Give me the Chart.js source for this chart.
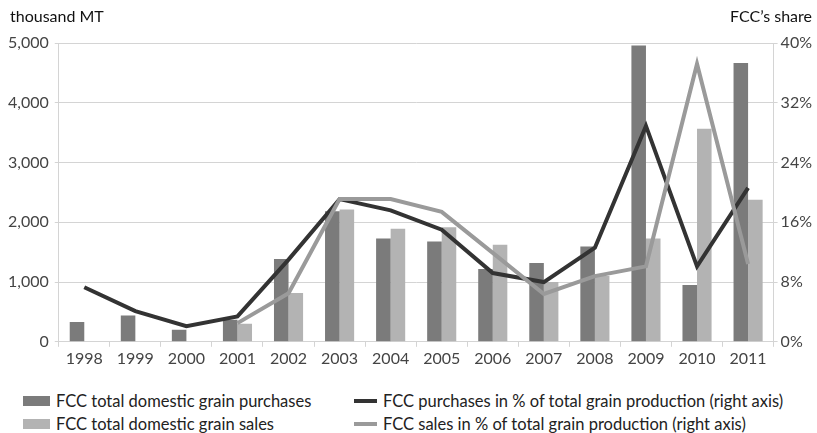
<!DOCTYPE html>
<html>
<head>
<meta charset="utf-8">
<script src="https://cdn.jsdelivr.net/npm/chart.js@4"></script>
<style>
  body { margin: 0; background: #fff; font-family: Lato, "Noto Sans", sans-serif; }
  #wrap { position: relative; width: 817px; height: 433px; }
  #box { position: absolute; left: 0; top: 0; width: 817px; height: 370px; }
  #legend { position: absolute; left: 23px; top: 392px; display: grid;
    grid-template-columns: 332px 450px; row-gap: 5px; font-size: 16.5px; color: #222; }
  .item { display: flex; align-items: center; height: 18px; white-space: nowrap; }
  .sw { display: inline-block; margin-right: 6px; }
</style>
</head>
<body>
<div id="wrap">
  <div id="box"><canvas id="chart"></canvas></div>
  <div id="legend"></div>
</div>
<script>
const years = ['1998','1999','2000','2001','2002','2003','2004','2005','2006','2007','2008','2009','2010','2011'];
// thousand MT
const purchases = [330, 440, 200, 370, 1385, 2185, 1730, 1680, 1220, 1320, 1595, 4960, 950, 4665];
const sales = [null, null, null, 300, 815, 2215, 1890, 1915, 1625, 1000, 1100, 1730, 3565, 2375];
// FCC share, % of total grain production
const purchShare = [7.3, 4.1, 2.1, 3.4, 11.0, 19.1, 17.6, 15.0, 9.2, 8.0, 12.6, 28.9, 10.1, 20.6];
const salesShare = [null, null, null, 2.5, 6.5, 19.1, 19.1, 17.4, 11.9, 6.4, 8.8, 10.1, 37.2, 10.4];

const tickFont = { family: 'Lato, "Noto Sans", sans-serif', size: 16 };
const gridColor = '#d4d4d4';

const axisTitles = {
    id: 'axisTitles',
    afterDraw(chart) {
        const ctx = chart.ctx;
        ctx.save();
        ctx.fillStyle = '#111';
        ctx.font = '16px Lato, "Noto Sans", sans-serif';
        ctx.textBaseline = 'alphabetic';
        ctx.textAlign = 'left';
        ctx.fillText('thousand MT', 10, 22);
        ctx.textAlign = 'right';
        ctx.fillText('FCC\u2019s share', 812, 22);
        ctx.restore();
    }
};

const chart = new Chart(document.getElementById('chart'), {
    type: 'bar',
    data: {
        labels: years,
        datasets: [
            { type: 'line', label: 'FCC sales in % of total grain production (right axis)', data: salesShare,
              yAxisID: 'y1', borderColor: '#9a9a9a', borderWidth: 4, pointRadius: 0, tension: 0, order: 0 },
            { type: 'line', label: 'FCC purchases in % of total grain production (right axis)', data: purchShare,
              yAxisID: 'y1', borderColor: '#333333', borderWidth: 4, pointRadius: 0, tension: 0, order: 1 },
            { label: 'FCC total domestic grain purchases', data: purchases, backgroundColor: '#7b7b7b',
              yAxisID: 'y', order: 2, categoryPercentage: 0.57, barPercentage: 1.0 },
            { label: 'FCC total domestic grain sales', data: sales, backgroundColor: '#b3b3b3',
              yAxisID: 'y', order: 3, categoryPercentage: 0.57, barPercentage: 1.0 }
        ]
    },
    options: {
        responsive: true,
        maintainAspectRatio: false,
        animation: false,
        layout: { padding: { left: 2, right: 2, top: 43, bottom: 0 } },
        plugins: { legend: { display: false }, tooltip: { enabled: false } },
        scales: {
            x: {
                offset: true,
                grid: { offset: true, drawOnChartArea: false, color: gridColor, tickLength: 5 },
                border: { color: gridColor },
                ticks: { color: '#444', font: tickFont, padding: 2, maxRotation: 0 }
            },
            y: {
                position: 'left', min: 0, max: 5000,
                ticks: { stepSize: 1000, color: '#444', font: tickFont, padding: 6,
                         callback: v => v.toLocaleString('en-US') },
                grid: { color: gridColor, tickLength: 4 },
                border: { color: gridColor }
            },
            y1: {
                position: 'right', min: 0, max: 40,
                ticks: { stepSize: 8, color: '#444', font: tickFont, padding: 3, callback: v => v + '%' },
                grid: { drawOnChartArea: false, color: gridColor, tickLength: 4 },
                border: { color: gridColor }
            }
        }
    },
    plugins: [axisTitles]
});

// legend: bars in the left column, lines in the right column
const legendOrder = [2, 1, 3, 0];
document.getElementById('legend').innerHTML = legendOrder.map(i => {
    const ds = chart.data.datasets[i];
    const sw = ds.type === 'line'
        ? `<span class="sw" style="width:23px;height:4px;background:${ds.borderColor};margin-left:-1px"></span>`
        : `<span class="sw" style="width:27px;height:10px;background:${ds.backgroundColor}"></span>`;
    return `<div class="item">${sw}<span>${ds.label}</span></div>`;
}).join('');
</script>
</body>
</html>
